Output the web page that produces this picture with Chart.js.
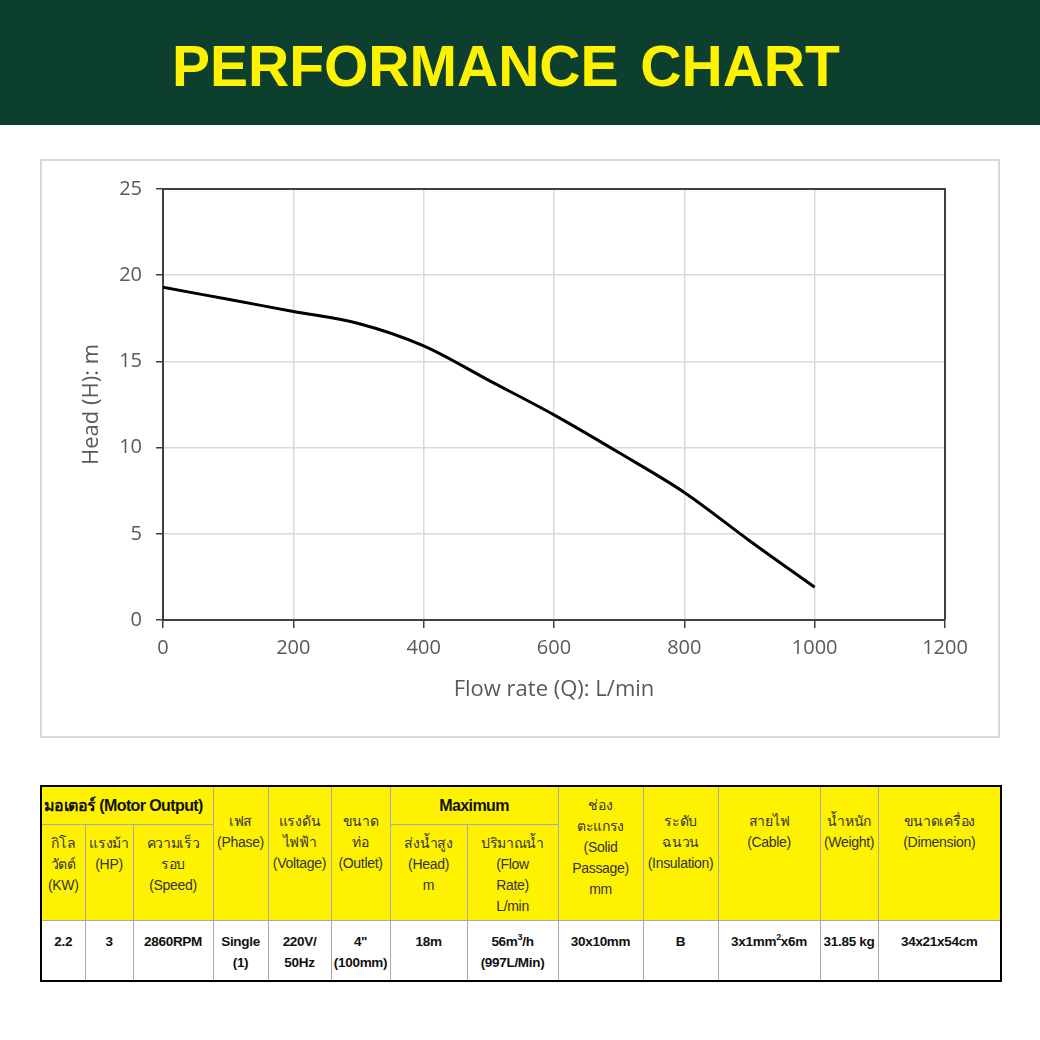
<!DOCTYPE html>
<html lang="th">

<head>
    <meta charset="UTF-8">
    <title>Performance Chart</title>
    <style>
        body {
            margin: 0;
            width: 1040px;
            height: 1040px;
            position: relative;
            background: #fff;
            font-family: "Liberation Sans", "Noto Sans", sans-serif;
        }

        .top {
            position: absolute;
            left: 0;
            top: 0;
            width: 1040px;
            height: 125px;
            background: #0c3f2e;
        }

        .top h1 {
            position: absolute;
            left: 172px;
            top: 33px;
            margin: 0;
            font-size: 57px;
            line-height: 66px;
            font-weight: bold;
            color: #fff200;
            word-spacing: 6px;
            white-space: nowrap;
        }

        .box {
            position: absolute;
            left: 40px;
            top: 159px;
            width: 956px;
            height: 575px;
            border: 2px solid #d9d9d9;
        }

        #myChart {
            width: 956px;
            height: 575px;
        }

        table {
            position: absolute;
            left: 40px;
            top: 785px;
            width: 961px;
            border-collapse: collapse;
            table-layout: fixed;
            border: 2px solid #000;
            font-size: 14px;
            line-height: 21px;
            letter-spacing: -0.3px;
        }

        td {
            border: 1px solid #aaa;
            text-align: center;
            vertical-align: top;
            padding: 0;
            color: #333;
            overflow: hidden;
            white-space: nowrap;
        }

        sup {
            font-size: 9px;
            line-height: 0;
            vertical-align: 6px;
        }

        .hd td {
            background: #fff200;
        }

        .r1 td { height: 37px; vertical-align: middle; }
        .r2 td { height: 87px; padding-top: 8px; }
        .r3 td { height: 49px; padding-top: 10px; color: #111; font-weight: bold; font-size: 13.5px; }

        td.big { font-size: 16px; font-weight: bold; color: #111; letter-spacing: -0.6px; }
        .r1 td.span { vertical-align: top; padding-top: 24px; }
        .r1 td.solid { vertical-align: top; padding-top: 8px; }
    </style>
</head>

<body>
    <div class="top">
        <h1>PERFORMANCE CHART</h1>
    </div>

    <div class="box">
        <canvas id="myChart" width="956" height="575"></canvas>
    </div>

    <table>
        <colgroup>
            <col style="width:44px"><col style="width:48px"><col style="width:80px">
            <col style="width:55px"><col style="width:63px"><col style="width:59px">
            <col style="width:77px"><col style="width:91px"><col style="width:85px">
            <col style="width:75px"><col style="width:102px"><col style="width:58px">
            <col style="width:123px">
        </colgroup>
        <tr class="hd r1">
            <td colspan="3" class="big" style="text-align:left;padding-left:2px">มอเตอร์ (Motor Output)</td>
            <td rowspan="2" class="span">เฟส<br>(Phase)</td>
            <td rowspan="2" class="span">แรงดัน<br>ไฟฟ้า<br>(Voltage)</td>
            <td rowspan="2" class="span">ขนาด<br>ท่อ<br>(Outlet)</td>
            <td colspan="2" class="big">Maximum</td>
            <td rowspan="2" class="solid">ช่อง<br>ตะแกรง<br>(Solid<br>Passage)<br>mm</td>
            <td rowspan="2" class="span">ระดับ<br>ฉนวน<br>(Insulation)</td>
            <td rowspan="2" class="span">สายไฟ<br>(Cable)</td>
            <td rowspan="2" class="span">น้ำหนัก<br>(Weight)</td>
            <td rowspan="2" class="span">ขนาดเครื่อง<br>(Dimension)</td>
        </tr>
        <tr class="hd r2">
            <td>กิโล<br>วัตต์<br>(KW)</td>
            <td>แรงม้า<br>(HP)</td>
            <td>ความเร็ว<br>รอบ<br>(Speed)</td>
            <td>ส่งน้ำสูง<br>(Head)<br>m</td>
            <td>ปริมาณน้ำ<br>(Flow<br>Rate)<br>L/min</td>
        </tr>
        <tr class="r3">
            <td>2.2</td>
            <td>3</td>
            <td>2860RPM</td>
            <td>Single<br>(1)</td>
            <td>220V/<br>50Hz</td>
            <td>4"<br>(100mm)</td>
            <td>18m</td>
            <td>56m<sup>3</sup>/h<br>(997L/Min)</td>
            <td>30x10mm</td>
            <td>B</td>
            <td>3x1mm<sup>2</sup>x6m</td>
            <td>31.85 kg</td>
            <td>34x21x54cm</td>
        </tr>
    </table>

    <script src="https://cdn.jsdelivr.net/npm/chart.js"></script>

    <script>
        // ค่าที่อ่านจากกราฟ
        const flow_list = [0, 100, 200, 300, 400, 500, 600, 700, 800, 900, 1000];
        const head_list = [19.3, 18.6, 17.9, 17.2, 15.9, 13.9, 11.9, 9.7, 7.4, 4.6, 1.9];
        const x_ticks = [0, 200, 400, 600, 800, 1000, 1200];
        const y_ticks = [0, 5, 10, 15, 20, 25];

        let points = [];
        for (let i = 0; i < flow_list.length; i++) {
            points.push({ x: flow_list[i], y: head_list[i] });
        }

        // กรอบบน/ขวาของพื้นที่กราฟ
        const frame = {
            id: 'frame',
            afterDraw(chart) {
                const a = chart.chartArea;
                const c = chart.ctx;
                c.save();
                c.strokeStyle = '#404040';
                c.lineWidth = 2;
                c.beginPath();
                c.moveTo(a.left, a.top);
                c.lineTo(a.right, a.top);
                c.lineTo(a.right, a.bottom);
                c.stroke();
                c.restore();
            }
        };

        const tickFont = { family: 'Open Sans', size: 20 };
        const titleFont = { family: 'Open Sans', size: 22 };

        let config = {
            type: 'line',
            data: {
                datasets: [{
                    data: points,
                    borderColor: '#000',
                    borderWidth: 3,
                    pointRadius: 0,
                    tension: 0.4,
                    cubicInterpolationMode: 'monotone',
                    fill: false
                }]
            },
            options: {
                responsive: false,
                animation: false,
                layout: { padding: { top: 28, right: 53, left: 0, bottom: 0 } },
                plugins: { legend: { display: false }, tooltip: { enabled: false } },
                scales: {
                    x: {
                        type: 'linear',
                        min: x_ticks[0],
                        max: x_ticks[x_ticks.length - 1],
                        afterBuildTicks: s => { s.ticks = x_ticks.map(v => ({ value: v })); },
                        afterFit: s => { s.height = 116; },
                        ticks: { color: '#595959', font: tickFont, padding: 8, callback: v => String(v) },
                        grid: { color: '#d9d9d9', lineWidth: 1.5, tickLength: 8, tickColor: '#404040' },
                        border: { color: '#404040', width: 2 },
                        title: {
                            display: true, text: 'Flow rate (Q): L/min', color: '#595959',
                            font: titleFont, padding: { top: 0, bottom: 33 }
                        }
                    },
                    y: {
                        min: y_ticks[0],
                        max: y_ticks[y_ticks.length - 1],
                        afterBuildTicks: s => { s.ticks = y_ticks.map(v => ({ value: v })); },
                        afterFit: s => { s.width = 121; },
                        ticks: { color: '#595959', font: tickFont, padding: 14, callback: v => String(v) },
                        grid: { color: '#d9d9d9', lineWidth: 1.5, tickLength: 7, tickColor: '#404040' },
                        border: { color: '#404040', width: 2 },
                        title: {
                            display: true, text: 'Head (H): m', color: '#595959',
                            font: titleFont, padding: { top: 37, bottom: 0 }
                        }
                    }
                }
            },
            plugins: [frame]
        };

        const ctx = document.getElementById('myChart');
        let myChart = new Chart(ctx, config);
    </script>
</body>

</html>
